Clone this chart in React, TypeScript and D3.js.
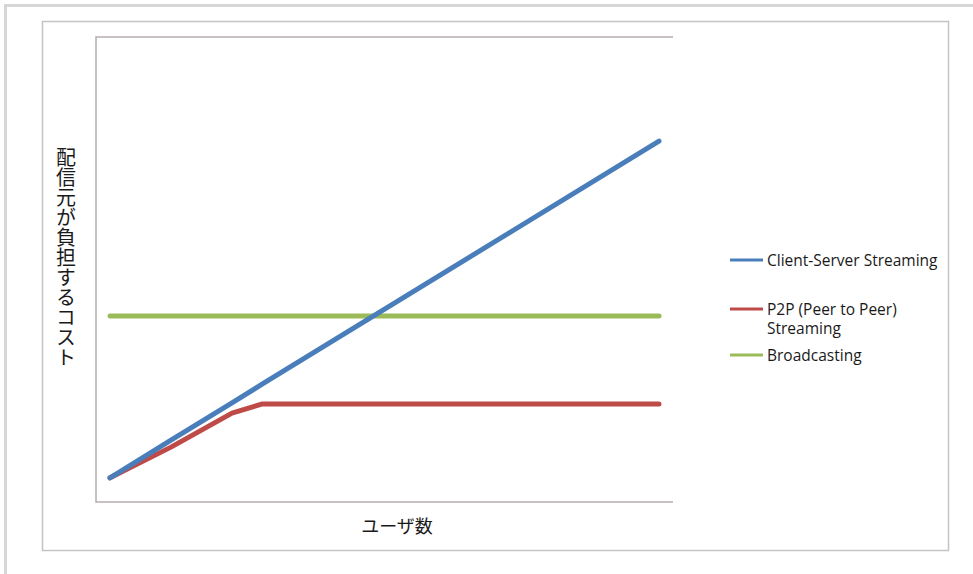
import React from "react";
import * as d3 from "d3";

const users = [0, 2, 4, 5, 18];
const clientServer = [5.2, 13.3, 21.3, 25.4, 77.6];
const p2p = [5.2, 11.8, 19.1, 21.1, 21.1];
const broadcasting = [40, 40, 40, 40, 40];

const seriesNames = ["Client-Server Streaming", "P2P (Peer to Peer)|Streaming", "Broadcasting"];
const seriesColors = ["#4a7ebb", "#be4b48", "#9bbb59"];
const yLabel = "配信元が負担するコスト";
const xLabel = "ユーザ数";

const W = 973;
const H = 574;
const plot = { left: 96, right: 673, top: 37, bottom: 502 };

export default function App() {
  const x = d3.scaleLinear().domain([0, 18]).range([110, 659]);
  const y = d3.scaleLinear().domain([0, 100]).range([plot.bottom, plot.top]);
  const line = d3
    .line<number>()
    .x((_, i) => x(users[i]))
    .y((v) => y(v));
  const series = [clientServer, p2p, broadcasting];
  const drawOrder = [2, 1, 0];
  const legendY = [260, 309, 355];
  const jp = "'Noto Sans CJK JP', 'Noto Sans', sans-serif";
  const latin = "'Open Sans', 'Noto Sans', sans-serif";

  return (
    <svg
      width={W}
      height={H}
      style={{ position: "absolute", left: 0, top: 0, background: "#fff" }}
    >
      <rect x={0} y={0} width={W} height={H} fill="#fff" />
      {/* outer frame */}
      <line x1={4} x2={W} y1={5.5} y2={5.5} stroke="#d6d6d6" strokeWidth={3} />
      <line x1={5.5} x2={5.5} y1={4} y2={H} stroke="#d6d6d6" strokeWidth={3} />
      {/* inner frame */}
      <rect x={42.5} y={21.5} width={906} height={529} fill="#fff" stroke="#c4c4c4" strokeWidth={1.5} />
      {/* plot border */}
      <path
        d={`M${plot.right},${plot.top}H${plot.left}V${plot.bottom}H${plot.right}`}
        fill="none"
        stroke="#b5adad"
        strokeWidth={1.5}
      />
      {drawOrder.map((k) => (
        <path
          key={k}
          d={line(series[k]) || ""}
          fill="none"
          stroke={seriesColors[k]}
          strokeWidth={5}
          strokeLinecap="round"
          strokeLinejoin="round"
        />
      ))}
      {/* legend */}
      {seriesNames.map((name, i) => {
        const parts = name.split("|");
        return (
          <g key={i}>
            <line x1={730} x2={763} y1={legendY[i]} y2={legendY[i]} stroke={seriesColors[i]} strokeWidth={3} />
            <text x={767} y={legendY[i]} fontFamily={latin} fontSize={15.5} fill="#1a1a1a" dominantBaseline="central">
              {parts.map((p, j) => (
                <tspan key={j} x={767} dy={j === 0 ? 0 : 19}>
                  {p}
                </tspan>
              ))}
            </text>
          </g>
        );
      })}
      {/* axis titles */}
      <text
        x={66}
        y={257}
        fontFamily={jp}
        fontSize={20}
        fill="#1a1a1a"
        textAnchor="middle"
        style={{ writingMode: "vertical-rl" } as React.CSSProperties}
      >
        {yLabel}
      </text>
      <text x={397} y={533} fontFamily={jp} fontSize={18} fill="#1a1a1a" textAnchor="middle">
        {xLabel}
      </text>
    </svg>
  );
}
